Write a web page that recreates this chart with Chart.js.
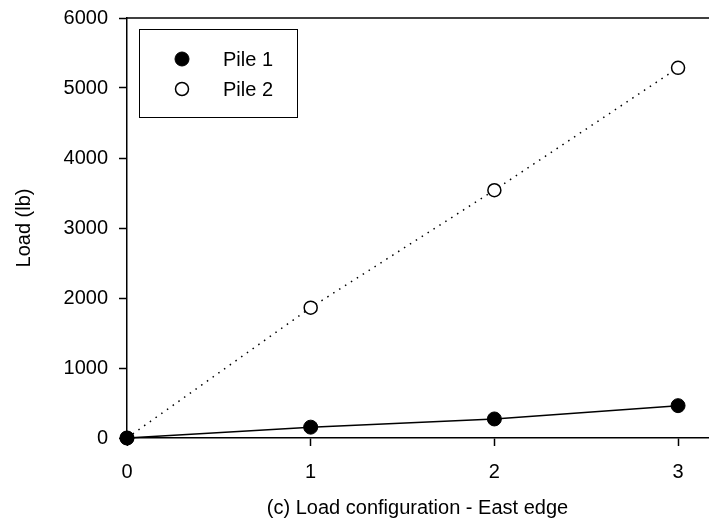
<!DOCTYPE html>
<html>
<head>
<meta charset="utf-8">
<script src="https://cdn.jsdelivr.net/npm/chart.js@4"></script>
<style>
  html, body { margin: 0; padding: 0; background: #fff; }
  #wrap { width: 709px; height: 529px; overflow: hidden; }
  #chart { display: block; margin-top: -5px; }
</style>
</head>
<body>
<div id="wrap"><canvas id="chart" width="716" height="534"></canvas></div>
<script>
const configs = [0, 1, 2, 3];
const pile1 = [0, 155, 272, 462];
const pile2 = [0, 1862, 3540, 5288];
const seriesNames = ["Pile 1", "Pile 2"];
const yTicks = [0, 1000, 2000, 3000, 4000, 5000, 6000];

const FONT = "'Liberation Sans', Arial, sans-serif";
const SHIFT = 5; // canvas is pulled up by this many px

function toPoints(vals) {
    return configs.map((c, i) => ({ x: c, y: vals[i] }));
}

// box legend inside the plot + top frame line
const frameAndLegend = {
    id: "frameAndLegend",
    afterDraw(chart) {
        const ctx = chart.ctx;
        const a = chart.chartArea;
        ctx.save();
        ctx.strokeStyle = "#000";
        ctx.lineWidth = 1.5;
        ctx.beginPath();
        ctx.moveTo(a.left, a.top);
        ctx.lineTo(chart.width, a.top);
        ctx.stroke();

        // legend box
        const bx = 139.5, by = 29.5 + SHIFT, bw = 158, bh = 88;
        ctx.lineWidth = 1;
        ctx.strokeRect(bx, by, bw, bh);
        ctx.font = "20px " + FONT;
        ctx.textBaseline = "middle";
        chart.data.datasets.forEach((ds, i) => {
            const y = 59 + SHIFT + i * 30;
            ctx.beginPath();
            ctx.arc(182, y, ds.pointRadius, 0, Math.PI * 2);
            ctx.fillStyle = ds.pointBackgroundColor;
            ctx.fill();
            ctx.lineWidth = ds.pointBorderWidth;
            ctx.strokeStyle = "#000";
            ctx.stroke();
            ctx.fillStyle = "#000";
            ctx.fillText(ds.label, 223, y + 1);
        });
        ctx.restore();
    }
};

new Chart(document.getElementById("chart"), {
    type: "scatter",
    data: {
        datasets: [
            {
                label: seriesNames[0],
                data: toPoints(pile1),
                showLine: true,
                borderColor: "#000",
                borderWidth: 1.5,
                pointRadius: 7,
                pointBackgroundColor: "#000",
                pointBorderColor: "#000",
                pointBorderWidth: 1,
                clip: false
            },
            {
                label: seriesNames[1],
                data: toPoints(pile2),
                showLine: true,
                borderColor: "#000",
                borderWidth: 1.5,
                borderDash: [1.5, 5.5],
                pointRadius: 6.5,
                pointBackgroundColor: "#fff",
                pointBorderColor: "#000",
                pointBorderWidth: 1.5,
                clip: false
            }
        ]
    },
    options: {
        responsive: false,
        animation: false,
        layout: { padding: 0 },
        plugins: {
            legend: { display: false },
            tooltip: { enabled: false }
        },
        scales: {
            x: {
                type: "linear",
                min: 0,
                max: 3.163,
                afterFit: s => { s.height = 91; },
                afterBuildTicks: s => { s.ticks = configs.map(v => ({ value: v })); },
                grid: { drawOnChartArea: false, color: "#000", tickLength: 8, tickWidth: 1.5 },
                border: { color: "#000", width: 1.5 },
                ticks: { color: "#000", font: { family: FONT, size: 20 }, padding: 14, callback: v => String(v) },
                title: {
                    display: true,
                    text: "(c) Load configuration - East edge",
                    color: "#000",
                    font: { family: FONT, size: 20 },
                    padding: { top: 4, bottom: 9 }
                }
            },
            y: {
                min: 0,
                max: 6000,
                afterFit: s => { s.width = 127; },
                afterBuildTicks: s => { s.ticks = yTicks.map(v => ({ value: v })); },
                grid: { drawOnChartArea: false, color: "#000", tickLength: 8, tickWidth: 1.5 },
                border: { color: "#000", width: 1.5 },
                ticks: { color: "#000", font: { family: FONT, size: 20 }, padding: 11, callback: v => String(v) },
                title: {
                    display: true,
                    text: "Load (lb)",
                    color: "#000",
                    font: { family: FONT, size: 20 },
                    padding: { top: 12, bottom: 0 }
                }
            }
        }
    },
    plugins: [frameAndLegend]
});
</script>
</body>
</html>
